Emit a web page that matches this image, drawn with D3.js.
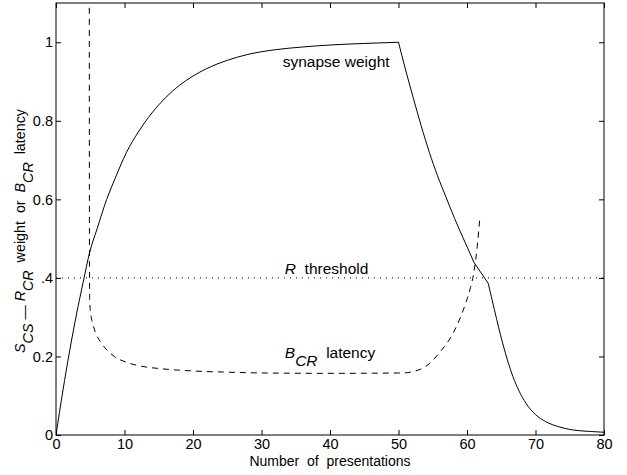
<!DOCTYPE html>
<html>
<head>
<meta charset="utf-8">
<script src="https://cdn.jsdelivr.net/npm/d3@7"></script>
<style>
  body { margin: 0; background: #fff; }
  svg { display: block; }
  text { font-family: "Liberation Sans", Arial, Helvetica, sans-serif; font-size: 14px; fill: #000; white-space: pre; }
  .note { font-size: 15.5px; }
</style>
</head>
<body>
<div id="chart"></div>
<script>
// Values
var weightN = [0, 1, 2, 3, 4, 4.9, 6, 7.4, 8.6, 10.3, 12, 14, 16, 18, 20, 22, 25, 28, 32, 36, 40, 45, 50,
  51, 52.1, 53.3, 54.5, 55.7, 56.95, 58.2, 59.4, 60.3, 61.0, 63.1, 64, 65.2, 66.7, 67.6, 68.6, 70, 71.5, 73.4, 75.4, 78, 80];
var weightV = [0, 0.112, 0.215, 0.308, 0.392, 0.464, 0.525, 0.6, 0.652, 0.72, 0.771, 0.82, 0.859, 0.89, 0.914, 0.933, 0.954, 0.969, 0.981, 0.988, 0.993, 0.997, 1.0,
  0.932, 0.862, 0.788, 0.72, 0.66, 0.605, 0.551, 0.503, 0.468, 0.44, 0.386, 0.319, 0.234, 0.149, 0.112, 0.081, 0.052, 0.034, 0.021, 0.013, 0.009, 0.007];
// corners where the weight curve changes regime
var weightBreaks = [50, 61.0, 63.1];

var latencyN = [4.86, 4.88, 4.92, 5.1, 5.3, 5.7, 6.5, 7.4, 8.5, 10.3, 12.5, 15.2, 20, 25, 30, 40, 50.6,
  52, 53, 54, 55, 56, 57, 58, 59, 59.8, 60.5, 61, 61.5, 61.9];
var latencyV = [1.2, 0.5, 0.34, 0.305, 0.288, 0.264, 0.237, 0.217, 0.2, 0.185, 0.175, 0.169, 0.163, 0.16, 0.158, 0.157, 0.158,
  0.161, 0.166, 0.175, 0.19, 0.21, 0.232, 0.26, 0.298, 0.335, 0.375, 0.414, 0.482, 0.558];

var thresholdValue = 0.4;

var xTicks = [0, 10, 20, 30, 40, 50, 60, 70, 80];
var yTicks = [0, 0.2, 0.4, 0.6, 0.8, 1];
var yTickLabels = ["0", "0.2", ".4", "0.6", "0.8", "1"];

var width = 627, height = 475;
var margin = { top: 3, right: 23, bottom: 40, left: 56 };
var w = width - margin.left - margin.right;
var h = height - margin.top - margin.bottom;

var x = d3.scaleLinear().domain([0, 80]).range([0, w]);
var y = d3.scaleLinear().domain([0, 1.1]).range([h, 0]);

var svg = d3.select("#chart").append("svg")
  .attr("width", width)
  .attr("height", height);

var g = svg.append("g")
  .attr("transform", "translate(" + margin.left + "," + margin.top + ")");

g.append("clipPath").attr("id", "plotclip")
  .append("rect").attr("width", w).attr("height", h);

// axes, ticks pointing inward on all four sides
g.append("g").attr("transform", "translate(0," + h + ")")
  .call(d3.axisBottom(x).tickValues(xTicks).tickSize(-5).tickPadding(4).tickFormat(d3.format("d")));
g.append("g")
  .call(d3.axisLeft(y).tickValues(yTicks).tickSize(-5).tickPadding(3)
    .tickFormat(function(d, i) { return yTickLabels[i]; }));
g.append("g")
  .call(d3.axisTop(x).tickValues(xTicks).tickSize(-5).tickFormat(""));
g.append("g").attr("transform", "translate(" + w + ",0)")
  .call(d3.axisRight(y).tickValues(yTicks).tickSize(-5).tickFormat(""));

g.selectAll(".domain").remove();
g.selectAll(".tick line").attr("stroke", "#000");
g.selectAll(".tick text").attr("font-family", null).attr("font-size", null).style("font-size", "14.5px");

g.append("rect")
  .attr("width", w).attr("height", h)
  .attr("fill", "none").attr("stroke", "#000").attr("stroke-width", 1);

var line = d3.line()
  .x(function(d) { return x(d[0]); })
  .y(function(d) { return y(d[1]); })
  .curve(d3.curveMonotoneX);

var plot = g.append("g").attr("clip-path", "url(#plotclip)");

// threshold
plot.append("path")
  .attr("d", line([[0, thresholdValue], [80, thresholdValue]]))
  .attr("fill", "none").attr("stroke", "#000").attr("stroke-width", 1)
  .attr("stroke-dasharray", "1,5");

// synapse weight, drawn piece by piece so the corners stay sharp
var weightPts = d3.zip(weightN, weightV);
var cuts = [0].concat(weightBreaks).concat([80]);
for (var i = 0; i < cuts.length - 1; i++) {
  var seg = weightPts.filter(function(p) { return p[0] >= cuts[i] && p[0] <= cuts[i + 1]; });
  plot.append("path")
    .attr("d", line(seg))
    .attr("fill", "none").attr("stroke", "#000").attr("stroke-width", 1);
}

// B_CR latency
plot.append("path")
  .attr("d", line(d3.zip(latencyN, latencyV)))
  .attr("fill", "none").attr("stroke", "#000").attr("stroke-width", 1)
  .attr("stroke-dasharray", "6,5");

// annotations
g.append("text").attr("class", "note")
  .attr("x", x(33.1)).attr("y", y(0.9375))
  .text("synapse weight");

var rt = g.append("text").attr("class", "note").attr("x", x(33.4)).attr("y", y(0.409));
rt.append("tspan").style("font-style", "italic").text("R");
rt.append("tspan").text("  threshold");

var bt = g.append("text").attr("class", "note").attr("x", x(33.4)).attr("y", y(0.196));
bt.append("tspan").style("font-style", "italic").text("B");
bt.append("tspan").style("font-style", "italic").attr("dy", 8).text("CR");
bt.append("tspan").attr("dy", -8).text("  latency");

// axis labels
svg.append("text")
  .attr("x", margin.left + w / 2).attr("y", 466)
  .attr("text-anchor", "middle")
  .text("Number  of  presentations");

var yl = svg.append("text")
  .attr("transform", "translate(25,231) rotate(-90)")
  .attr("text-anchor", "middle")
  .style("font-size", "14.3px");
yl.append("tspan").style("font-style", "italic").text("S");
yl.append("tspan").style("font-style", "italic").attr("dy", 8).text("CS");
yl.append("tspan").attr("dy", -4).text(" — ");
yl.append("tspan").style("font-style", "italic").attr("dy", -4).text("R");
yl.append("tspan").style("font-style", "italic").attr("dy", 8).text("CR");
yl.append("tspan").attr("dy", -8).text("  weight  or  ");
yl.append("tspan").style("font-style", "italic").text("B");
yl.append("tspan").style("font-style", "italic").attr("dy", 8).text("CR");
yl.append("tspan").attr("dy", -8).text("  latency");
</script>
</body>
</html>
